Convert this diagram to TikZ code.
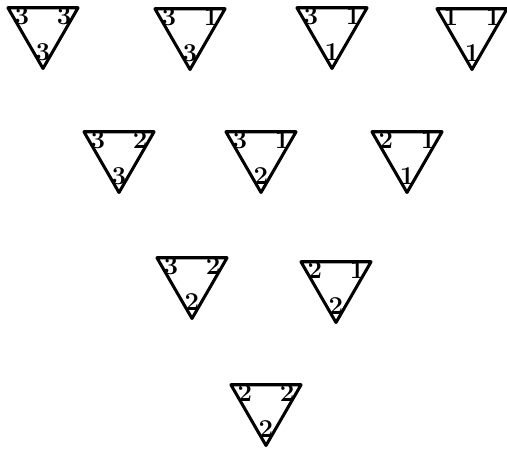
\documentclass[tikz,border=0pt]{standalone}
\usepackage{tikz}
\usetikzlibrary{shapes.geometric, calc}

\begin{document}
\begin{tikzpicture}[
    x=0.03cm, y=-0.03cm,
    tri/.style={regular polygon, regular polygon sides=3,
      shape border rotate=180, minimum size=2.43cm,
      inner sep=0pt, outer sep=0pt, draw=black,
      line width=2.6pt, line join=round},
    lbl/.style={font=\fontsize{22}{22}\selectfont\bfseries,
      inner sep=0pt},
]
\useasboundingbox (0,0) rectangle (507,450);
% Triangles
\node[tri] (t1)  at (43, 28)   {};
\node[tri] (t2)  at (190, 29)  {};
\node[tri] (t3)  at (332, 28)  {};
\node[tri] (t4)  at (472, 29)  {};
\node[tri] (t5)  at (119, 152) {};
\node[tri] (t6)  at (261, 152) {};
\node[tri] (t7)  at (407, 152) {};
\node[tri] (t8)  at (192, 278) {};
\node[tri] (t9)  at (336, 282) {};
\node[tri] (t10) at (266, 405) {};
% Corner numbers (left, right, bottom)
\node[lbl] (t1l) at ($(t1.corner 3)!0.4!(t1.center)$) {3};
\node[lbl] (t1r) at ($(t1.corner 2)!0.4!(t1.center)$) {3};
\node[lbl] (t1b) at ($(t1.corner 1)!0.4!(t1.center)$) {3};
\node[lbl] (t2l) at ($(t2.corner 3)!0.4!(t2.center)$) {3};
\node[lbl] (t2r) at ($(t2.corner 2)!0.4!(t2.center)$) {1};
\node[lbl] (t2b) at ($(t2.corner 1)!0.4!(t2.center)$) {3};
\node[lbl] (t3l) at ($(t3.corner 3)!0.4!(t3.center)$) {3};
\node[lbl] (t3r) at ($(t3.corner 2)!0.4!(t3.center)$) {1};
\node[lbl] (t3b) at ($(t3.corner 1)!0.4!(t3.center)$) {1};
\node[lbl] (t4l) at ($(t4.corner 3)!0.4!(t4.center)$) {1};
\node[lbl] (t4r) at ($(t4.corner 2)!0.4!(t4.center)$) {1};
\node[lbl] (t4b) at ($(t4.corner 1)!0.4!(t4.center)$) {1};
\node[lbl] (t5l) at ($(t5.corner 3)!0.4!(t5.center)$) {3};
\node[lbl] (t5r) at ($(t5.corner 2)!0.4!(t5.center)$) {2};
\node[lbl] (t5b) at ($(t5.corner 1)!0.4!(t5.center)$) {3};
\node[lbl] (t6l) at ($(t6.corner 3)!0.4!(t6.center)$) {3};
\node[lbl] (t6r) at ($(t6.corner 2)!0.4!(t6.center)$) {1};
\node[lbl] (t6b) at ($(t6.corner 1)!0.4!(t6.center)$) {2};
\node[lbl] (t7l) at ($(t7.corner 3)!0.4!(t7.center)$) {2};
\node[lbl] (t7r) at ($(t7.corner 2)!0.4!(t7.center)$) {1};
\node[lbl] (t7b) at ($(t7.corner 1)!0.4!(t7.center)$) {1};
\node[lbl] (t8l) at ($(t8.corner 3)!0.4!(t8.center)$) {3};
\node[lbl] (t8r) at ($(t8.corner 2)!0.4!(t8.center)$) {2};
\node[lbl] (t8b) at ($(t8.corner 1)!0.4!(t8.center)$) {2};
\node[lbl] (t9l) at ($(t9.corner 3)!0.4!(t9.center)$) {2};
\node[lbl] (t9r) at ($(t9.corner 2)!0.4!(t9.center)$) {1};
\node[lbl] (t9b) at ($(t9.corner 1)!0.4!(t9.center)$) {2};
\node[lbl] (t10l) at ($(t10.corner 3)!0.4!(t10.center)$) {2};
\node[lbl] (t10r) at ($(t10.corner 2)!0.4!(t10.center)$) {2};
\node[lbl] (t10b) at ($(t10.corner 1)!0.4!(t10.center)$) {2};
\end{tikzpicture}
\end{document}
